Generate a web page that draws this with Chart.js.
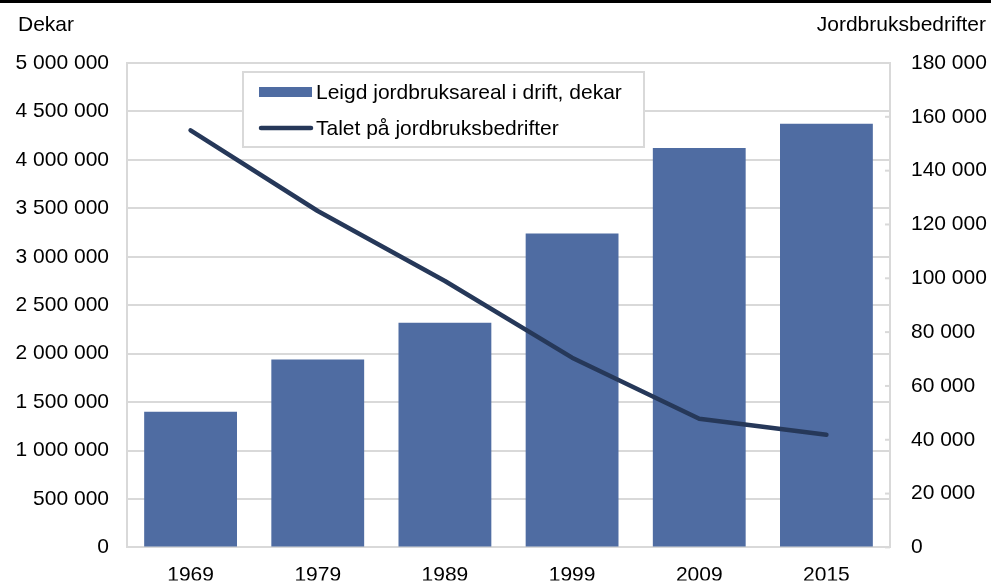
<!DOCTYPE html>
<html>
<head>
<meta charset="utf-8">
<script src="https://cdn.jsdelivr.net/npm/chart.js@4/dist/chart.umd.min.js"></script>
<style>
  html, body { margin: 0; padding: 0; background: #fff; }
  #wrap { width: 991px; height: 581px; }
</style>
</head>
<body>
<div id="wrap"><canvas id="chart" width="991" height="581"></canvas></div>
<script>
// Data
const years = ["1969", "1979", "1989", "1999", "2009", "2015"];
const leigdAreal = [1400000, 1940000, 2318000, 3239000, 4123000, 4374000];
const taletBedrifter = [155000, 125000, 99000, 70500, 47800, 41900];

const leftTitle = "Dekar";
const rightTitle = "Jordbruksbedrifter";

const barColor = "#4f6ca2";
const lineColor = "#263859";
const gridColor = "#d9d9d9";
const fontFamily = "'Liberation Sans', Arial, sans-serif";
const fontSize = 21;

// thousands with a space, e.g. 5 000 000
const fmt = v => String(v).replace(/\B(?=(\d{3})+(?!\d))/g, " ");

// titles, top rule, legend box and inner ticks on the right axis
const extras = {
  id: "extras",
  afterDatasetsDraw(chart) {
    const ctx = chart.ctx;
    const area = chart.chartArea;
    ctx.save();

    // black rule along the top
    ctx.fillStyle = "#000";
    ctx.fillRect(0, 0, chart.width, 3);

    // axis titles
    ctx.font = fontSize + "px " + fontFamily;
    ctx.fillStyle = "#000";
    ctx.textBaseline = "middle";
    ctx.textAlign = "left";
    ctx.fillText(leftTitle, 18, 25);
    ctx.textAlign = "right";
    ctx.fillText(rightTitle, 986, 25);

    // small ticks inside the right axis line
    const y1 = chart.scales.y1;
    ctx.strokeStyle = gridColor;
    ctx.lineWidth = 2;
    y1.ticks.forEach((t, i) => {
      const py = y1.getPixelForTick(i);
      ctx.beginPath();
      ctx.moveTo(area.right - 5, py);
      ctx.lineTo(area.right, py);
      ctx.stroke();
    });

    // legend box
    const bx = 243, by = 72, bw = 401, bh = 75;
    ctx.fillStyle = "#fff";
    ctx.fillRect(bx, by, bw, bh);
    ctx.strokeStyle = gridColor;
    ctx.lineWidth = 2;
    ctx.strokeRect(bx, by, bw, bh);

    const ds = chart.data.datasets;
    // bar entry
    ctx.fillStyle = barColor;
    ctx.fillRect(259, 87, 53, 10);
    // line entry
    ctx.strokeStyle = lineColor;
    ctx.lineWidth = 4.5;
    ctx.lineCap = "round";
    ctx.beginPath();
    ctx.moveTo(261, 128);
    ctx.lineTo(311, 128);
    ctx.stroke();

    ctx.fillStyle = "#000";
    ctx.textAlign = "left";
    ctx.textBaseline = "middle";
    ctx.fillText(ds[1].label, 316, 93);
    ctx.fillText(ds[0].label, 316, 129);

    ctx.restore();
  }
};

const ctx = document.getElementById("chart").getContext("2d");
new Chart(ctx, {
  type: "bar",
  data: {
    labels: years,
    datasets: [
      {
        type: "line",
        label: "Talet på jordbruksbedrifter",
        data: taletBedrifter,
        yAxisID: "y1",
        borderColor: lineColor,
        borderWidth: 4.5,
        borderCapStyle: "round",
        borderJoinStyle: "round",
        pointRadius: 0,
        tension: 0,
        fill: false,
        order: 0,
      },
      {
        type: "bar",
        label: "Leigd jordbruksareal i drift, dekar",
        data: leigdAreal,
        yAxisID: "y",
        backgroundColor: barColor,
        borderWidth: 0,
        categoryPercentage: 1,
        barPercentage: 0.73,
        order: 1,
      },
    ],
  },
  options: {
    responsive: false,
    maintainAspectRatio: false,
    devicePixelRatio: 1,
    animation: false,
    layout: { padding: { top: 63, left: 0, right: 0, bottom: 0 } },
    plugins: {
      legend: { display: false },
      tooltip: { enabled: false },
    },
    scales: {
      x: {
        grid: { display: false, drawTicks: false },
        border: { display: true, color: gridColor, width: 2 },
        ticks: { color: "#000", font: { family: fontFamily, size: fontSize }, padding: 15, maxRotation: 0 },
        afterFit: s => { s.height = 33; },
      },
      y: {
        position: "left",
        min: 0,
        max: 5000000,
        grid: { color: gridColor, lineWidth: 2, drawTicks: false },
        border: { display: true, color: gridColor, width: 2 },
        ticks: {
          stepSize: 500000,
          color: "#000",
          font: { family: fontFamily, size: fontSize },
          padding: 18,
          callback: v => fmt(v),
        },
        afterFit: s => { s.width = 127; },
      },
      y1: {
        position: "right",
        min: 0,
        max: 180000,
        grid: { drawOnChartArea: false, drawTicks: false },
        border: { display: true, color: gridColor, width: 2 },
        ticks: {
          stepSize: 20000,
          color: "#000",
          font: { family: fontFamily, size: fontSize },
          padding: 21,
          callback: v => fmt(v),
        },
        afterFit: s => { s.width = 101; },
      },
    },
  },
  plugins: [extras],
});
</script>
</body>
</html>
